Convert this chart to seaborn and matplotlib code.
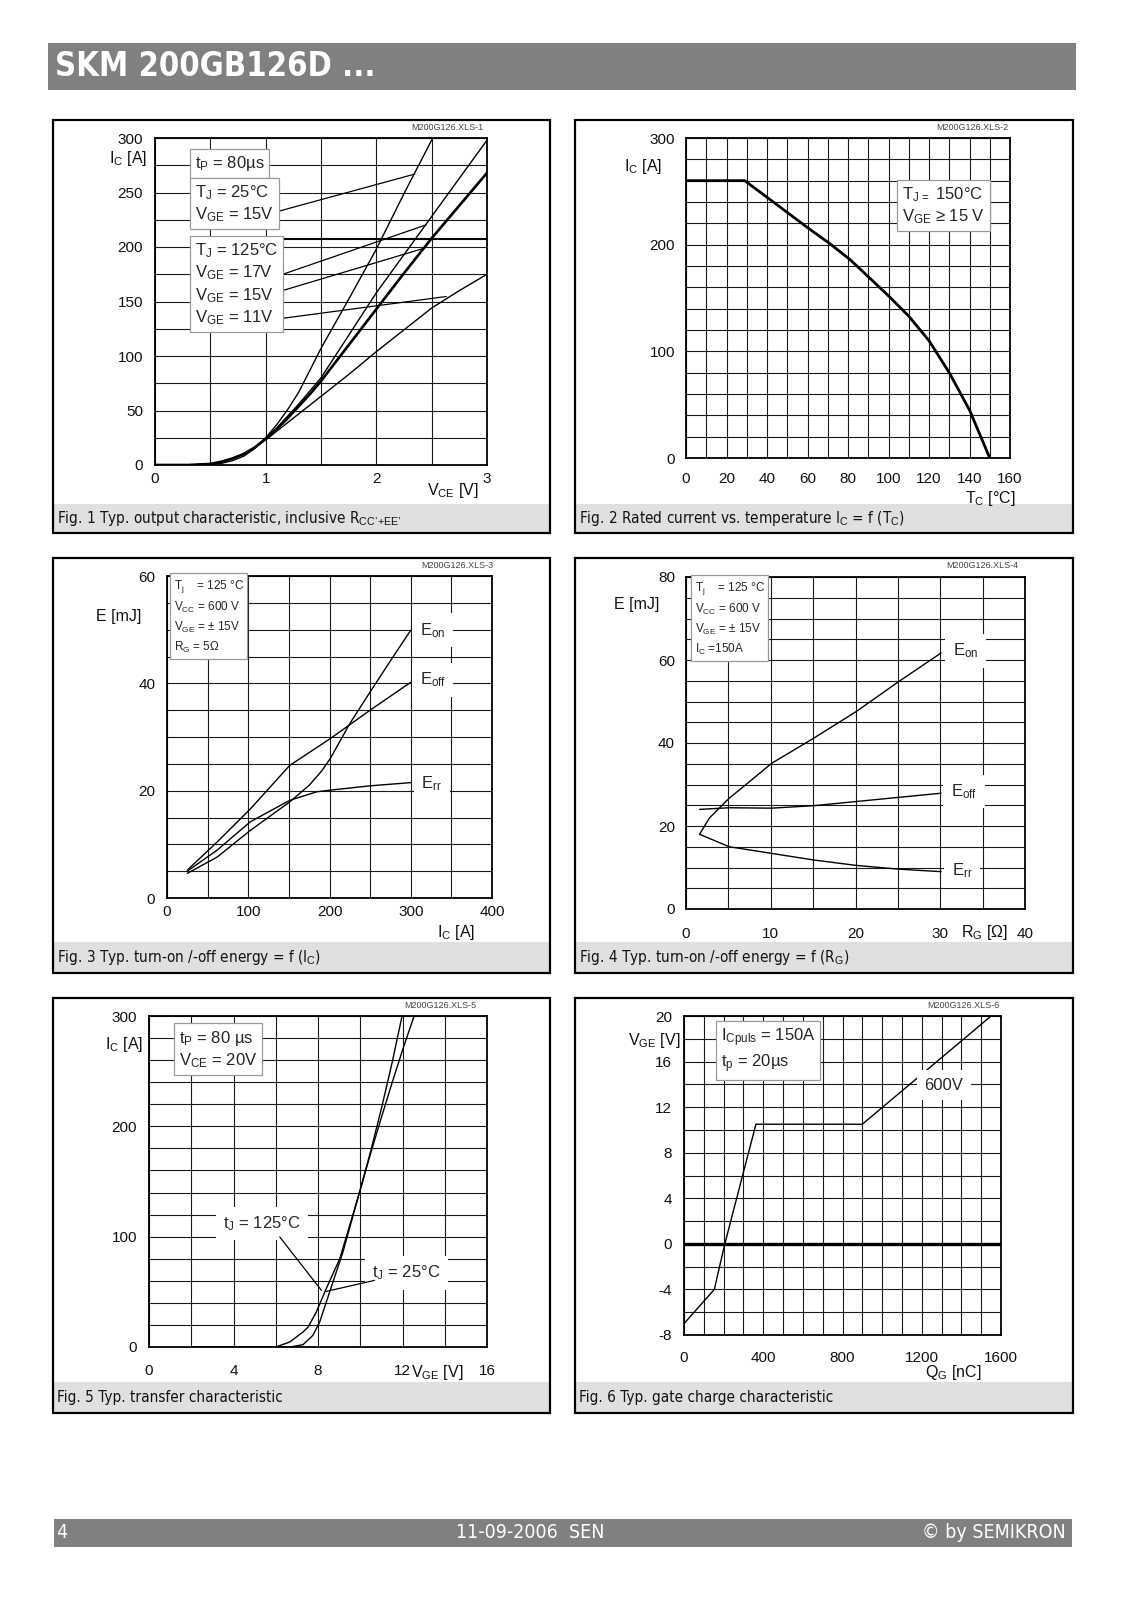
import seaborn as sns
import matplotlib.pyplot as plt
from matplotlib.patches import Rectangle

plt.switch_backend('agg')

#### values

# Fig. 1 output characteristic  I_C [A] vs V_CE [V]
vce_25_15 = [0, 0.3, 0.5, 0.6, 0.7, 0.8, 0.9, 1.0, 1.1, 1.2, 1.3, 1.4, 1.5, 1.75, 2.0, 2.25, 2.51]
ic_25_15 = [0, 0, 0.5, 1.5, 4, 8, 15, 25, 37, 51, 67, 87, 107, 152, 198, 249, 300]
vce_125 = [0, 0.3, 0.5, 0.6, 0.7, 0.8, 0.9, 1.0, 1.1, 1.2, 1.3, 1.4, 1.5, 1.75, 2.0, 2.25, 2.5, 2.75, 3.0]
ic_125_17 = [0, 0, 1, 3, 6, 10, 16, 24, 34, 45, 56, 68, 80, 119, 158, 193, 228, 263, 298]
ic_125_15 = [0, 0, 1, 3, 6, 10, 16, 24, 33, 43, 54, 65, 77, 110, 143, 176, 208, 238, 268]
ic_125_11 = [0, 0, 1, 3, 6, 10, 16, 23, 31, 39, 47, 55, 63, 83, 104, 124, 144, 160, 175]
ic_limit = 207
vce_limit = [1.0, 3.0]

# Fig. 2 rated current vs case temperature
tc = [0, 29, 41, 60, 71, 81, 90, 100, 110, 120, 130, 140, 150]
ic_rated = [260, 260, 243, 216, 201, 186, 170, 152, 133, 110, 80, 45, 0]

# Fig. 3 energies vs I_C
ic_on = [25, 61.5, 102.6, 151, 175, 190, 201, 225, 250, 275, 300]
e_on_ic = [4.6, 7.6, 12.6, 17.9, 21.0, 23.6, 26.0, 32.5, 38.4, 44.2, 49.9]
ic_off = [25, 61.5, 102.6, 151, 201, 250, 300]
e_off_ic = [5.2, 10.4, 16.6, 24.7, 29.7, 35.0, 40.2]
ic_rr = [25, 61.5, 102.6, 151, 184.6, 201, 250, 300]
e_rr_ic = [5.0, 8.9, 14.2, 18.2, 19.8, 20.1, 20.9, 21.5]

# Fig. 4 energies vs R_G
rg_on = [1.6, 2.75, 5.1, 7.5, 10.1, 15.1, 20.1, 25.1, 30.1]
e_on_rg = [18.0, 21.9, 26.7, 30.7, 35.1, 41.2, 47.6, 54.8, 61.7]
rg = [1.6, 5.1, 10.1, 15.1, 20.1, 25.1, 30.1]
e_off_rg = [24.0, 24.4, 24.3, 24.9, 25.9, 26.9, 27.9]
e_rr_rg = [18.0, 15.0, 13.4, 11.8, 10.5, 9.6, 9.0]

# Fig. 5 transfer characteristic
vge_125 = [2, 6.0, 6.66, 7.29, 7.53, 7.92, 8.39, 9.03, 9.97, 10.5, 11.0, 11.5, 12.0, 12.55]
ic_tj125 = [0, 0, 4.5, 13.6, 18, 31.7, 52.9, 80, 140.5, 176, 208, 239, 269, 300]
vge_25 = [2, 6.66, 7.29, 7.76, 8.08, 8.55, 9.18, 9.97, 10.5, 11.0, 11.5, 11.98]
ic_tj25 = [0, 0, 2.1, 10.6, 22.7, 49.8, 86, 140.5, 178, 216, 257, 300]

# Fig. 6 gate charge
qg = [0, 153, 206, 363, 900, 1550]
vge_qg = [-7, -4, 0, 10.5, 10.5, 20]

#### page setup

sns.set_theme(style='white')
plt.rcParams['font.family'] = ['Liberation Sans', 'DejaVu Sans']
plt.rcParams['mathtext.fontset'] = 'custom'
plt.rcParams['mathtext.rm'] = 'Liberation Sans'
plt.rcParams['mathtext.it'] = 'Liberation Sans:italic'
plt.rcParams['mathtext.bf'] = 'Liberation Sans:bold'
plt.rcParams['axes.unicode_minus'] = False

W, H = 1131, 1600
fig = plt.figure(figsize=(W / 100, H / 100), dpi=100)
fig.patch.set_facecolor('white')
page = fig.add_axes([0, 0, 1, 1])
page.set_xlim(0, W)
page.set_ylim(H, 0)
page.axis('off')

NARROW = dict(family=['Liberation Sans Narrow', 'DejaVu Sans'], fontstretch='condensed')
BOX = dict(boxstyle='square,pad=0.3', fc='white', ec='#999999', lw=0.9)


def add_plot(x0, y0, x1, y1):
    return fig.add_axes([x0 / W, 1 - y1 / H, (x1 - x0) / W, (y1 - y0) / H])


def frame(x0, y0, x1, y1, caption, code, code_x):
    page.add_patch(Rectangle((x0, y0 + 384), x1 - x0, y1 - y0 - 384, fc='#e0e0e0', ec='none'))
    page.add_patch(Rectangle((x0, y0), x1 - x0, y1 - y0, fc='none', ec='black', lw=1.6))
    page.text(x0 + 4, (y0 + 384 + y1) / 2, caption, va='center', fontsize=11, color='#111111', **NARROW)
    page.text(code_x, y0 + 7, code, ha='right', va='center', fontsize=6.5, color='#444444')


def style(ax, xlim, ylim, xmaj, ymaj, xmin, ymin, xpad, ypad=8.5):
    ax.set_xlim(xlim)
    ax.set_ylim(ylim)
    ax.set_xticks(xmaj)
    ax.set_yticks(ymaj)
    ax.set_xticks(xmin, minor=True)
    ax.set_yticks(ymin, minor=True)
    ax.grid(True, which='both', color='#1a1a1a', lw=0.8)
    ax.set_axisbelow(True)
    ax.tick_params(which='both', length=0, labelsize=11, colors='#111111')
    ax.tick_params(axis='x', pad=xpad)
    ax.tick_params(axis='y', pad=ypad)
    for s in ax.spines.values():
        s.set_color('black')
        s.set_linewidth(1.3)
    ax.set_facecolor('white')


def curve(ax, x, y, lw=1.0):
    sns.lineplot(x=x, y=y, ax=ax, color='black', lw=lw, estimator=None, sort=False, zorder=3)
    ax.set_xlabel('')
    ax.set_ylabel('')


def note(ax, x, y, s, size=12, ls=1.25):
    ax.text(x, y, s, ha='left', va='center', fontsize=size, linespacing=ls, bbox=BOX, zorder=5)


def tag(ax, x, y, s, size=12):
    ax.text(x, y, s, ha='center', va='center', fontsize=size, zorder=4,
            bbox=dict(boxstyle='square,pad=0.45', fc='white', ec='none'))


def leader(ax, p0, p1):
    ax.annotate('', xy=p1, xytext=p0, zorder=4,
                arrowprops=dict(arrowstyle='-', color='black', lw=0.9, shrinkA=0, shrinkB=0))


def label(x, y, s, ha='center'):
    page.text(x, y, s, ha=ha, va='center', fontsize=11.5, color='#111111')


# header and footer bars
page.add_patch(Rectangle((48, 43), 1028, 47, fc='#808080', ec='none'))
page.text(55, 67, 'SKM 200GB126D ...', color='white', fontsize=23.5, fontweight='bold', va='center', **NARROW)
page.add_patch(Rectangle((54, 1519), 1018, 28, fc='#808080', ec='none'))
page.text(56, 1533, '4', color='white', fontsize=14, va='center', **NARROW)
page.text(530, 1533, '11-09-2006  SEN', color='white', fontsize=14, va='center', ha='center', **NARROW)
page.text(1066, 1533, '© by SEMIKRON', color='white', fontsize=14, va='center', ha='right', **NARROW)

#### Fig. 1
frame(53, 120, 550, 533, "Fig. 1 Typ. output characteristic, inclusive R$_\\mathrm{CC’\\!+\\!EE’}$",
      'M200G126.XLS-1', 483)
ax = add_plot(155, 138, 487, 465)
curve(ax, vce_25_15, ic_25_15)
curve(ax, vce_125, ic_125_17)
curve(ax, vce_125, ic_125_15, lw=1.9)
curve(ax, vce_125, ic_125_11)
ax.hlines(ic_limit, vce_limit[0], vce_limit[1], color='black', lw=1.5, zorder=3)
style(ax, (0, 3), (0, 300), [0, 1, 2, 3], range(0, 301, 50),
      [i * 0.5 for i in range(7)], range(0, 301, 25), xpad=5)
note(ax, 0.36, 277, 't$_\\mathrm{P}$ = 80µs')
note(ax, 0.36, 239.5, 'T$_\\mathrm{J}$ = 25°C\nV$_\\mathrm{GE}$ = 15V')
note(ax, 0.36, 166, 'T$_\\mathrm{J}$ = 125°C\nV$_\\mathrm{GE}$ = 17V\nV$_\\mathrm{GE}$ = 15V\nV$_\\mathrm{GE}$ = 11V')
leader(ax, (1.023, 230.2), (2.347, 266.9))
leader(ax, (1.053, 171.4), (2.453, 220.4))
leader(ax, (1.053, 157.0), (2.437, 199.0))
leader(ax, (1.053, 133.2), (2.633, 154.6))
label(128, 158, 'I$_\\mathrm{C}$ [A]')
label(453, 491, 'V$_\\mathrm{CE}$ [V]')

#### Fig. 2
frame(575, 120, 1073, 533, 'Fig. 2 Rated current vs. temperature I$_\\mathrm{C}$ = f (T$_\\mathrm{C}$)',
      'M200G126.XLS-2', 1008)
ax = add_plot(686, 138, 1010, 458)
curve(ax, tc, ic_rated, lw=2.0)
style(ax, (0, 160), (0, 300), range(0, 161, 20), [0, 100, 200, 300],
      range(0, 161, 10), range(0, 301, 20), xpad=10, ypad=8)
note(ax, 106.7, 236.5, 'T$_\\mathrm{J\\,=}$ 150°C\nV$_\\mathrm{GE}$ ≥ 15 V')
label(643, 167, 'I$_\\mathrm{C}$ [A]')
label(1016, 499, 'T$_\\mathrm{C}$ [°C]', ha='right')

#### Fig. 3
frame(53, 558, 550, 973, 'Fig. 3 Typ. turn-on /-off energy = f (I$_\\mathrm{C}$)', 'M200G126.XLS-3', 493)
ax = add_plot(167, 576, 492, 898)
curve(ax, ic_on, e_on_ic)
curve(ax, ic_off, e_off_ic)
curve(ax, ic_rr, e_rr_ic)
style(ax, (0, 400), (0, 60), range(0, 401, 100), range(0, 61, 20),
      range(0, 401, 50), range(0, 61, 5), xpad=5)
note(ax, 8.2, 52.4, 'T$_\\mathrm{j}$    = 125 °C\nV$_\\mathrm{CC}$ = 600 V\nV$_\\mathrm{GE}$ = ± 15V\nR$_\\mathrm{G}$ = 5Ω',
     size=8.5, ls=1.45)
tag(ax, 327, 49.9, 'E$_\\mathrm{on}$')
tag(ax, 327, 40.6, 'E$_\\mathrm{off}$')
tag(ax, 326, 21.3, 'E$_\\mathrm{rr}$')
label(119, 617, 'E [mJ]')
label(456, 932, 'I$_\\mathrm{C}$ [A]')

#### Fig. 4
frame(575, 558, 1073, 973, 'Fig. 4 Typ. turn-on /-off energy = f (R$_\\mathrm{G}$)', 'M200G126.XLS-4', 1018)
ax = add_plot(686, 577, 1025, 909)
curve(ax, rg_on, e_on_rg)
curve(ax, rg, e_off_rg)
curve(ax, rg, e_rr_rg)
style(ax, (0, 40), (0, 80), range(0, 41, 10), range(0, 81, 20),
      range(0, 41, 5), range(0, 81, 5), xpad=13, ypad=8)
note(ax, 1.02, 69.9, 'T$_\\mathrm{j}$    = 125 °C\nV$_\\mathrm{CC}$ = 600 V\nV$_\\mathrm{GE}$ = ± 15V\nI$_\\mathrm{C}$ =150A',
     size=8.5, ls=1.45)
tag(ax, 33.0, 62.2, 'E$_\\mathrm{on}$')
tag(ax, 32.8, 28.3, 'E$_\\mathrm{off}$')
tag(ax, 32.6, 9.2, 'E$_\\mathrm{rr}$')
label(637, 605, 'E [mJ]')
label(985, 932, 'R$_\\mathrm{G}$ [Ω]')

#### Fig. 5
frame(53, 998, 550, 1413, 'Fig. 5 Typ. transfer characteristic', 'M200G126.XLS-5', 476)
ax = add_plot(149, 1016, 487, 1347)
curve(ax, vge_125, ic_tj125)
curve(ax, vge_25, ic_tj25)
style(ax, (0, 16), (0, 300), [0, 4, 8, 12, 16], [0, 100, 200, 300],
      range(0, 17, 2), range(0, 301, 20), xpad=12)
note(ax, 1.42, 269.8, 't$_\\mathrm{P}$ = 80 µs\nV$_\\mathrm{CE}$ = 20V')
tag(ax, 5.35, 111.8, 't$_\\mathrm{J}$ = 125°C')
tag(ax, 12.18, 67.1, 't$_\\mathrm{J}$ = 25°C')
leader(ax, (6.19, 99.7), (8.16, 51.4))
leader(ax, (10.68, 60.4), (8.39, 50.4))
label(124, 1045, 'I$_\\mathrm{C}$ [A]')
label(437, 1372, 'V$_\\mathrm{GE}$ [V]')

#### Fig. 6
frame(575, 998, 1073, 1413, 'Fig. 6 Typ. gate charge characteristic', 'M200G126.XLS-6', 1000)
ax = add_plot(684, 1016, 1001, 1335)
curve(ax, qg, vge_qg)
ax.axhline(0, color='black', lw=2.4, zorder=3)
style(ax, (0, 1600), (-8, 20), range(0, 1601, 400), range(-8, 21, 4),
      range(0, 1601, 100), range(-8, 21, 2), xpad=11.5)
note(ax, 184.7, 16.96, 'I$_\\mathrm{Cpuls}$ = 150A\nt$_\\mathrm{p}$ = 20µs')
tag(ax, 1311, 13.92, '600V')
label(654, 1040, 'V$_\\mathrm{GE}$ [V]')
label(953, 1372, 'Q$_\\mathrm{G}$ [nC]')

fig.savefig('out.png', dpi=100)
